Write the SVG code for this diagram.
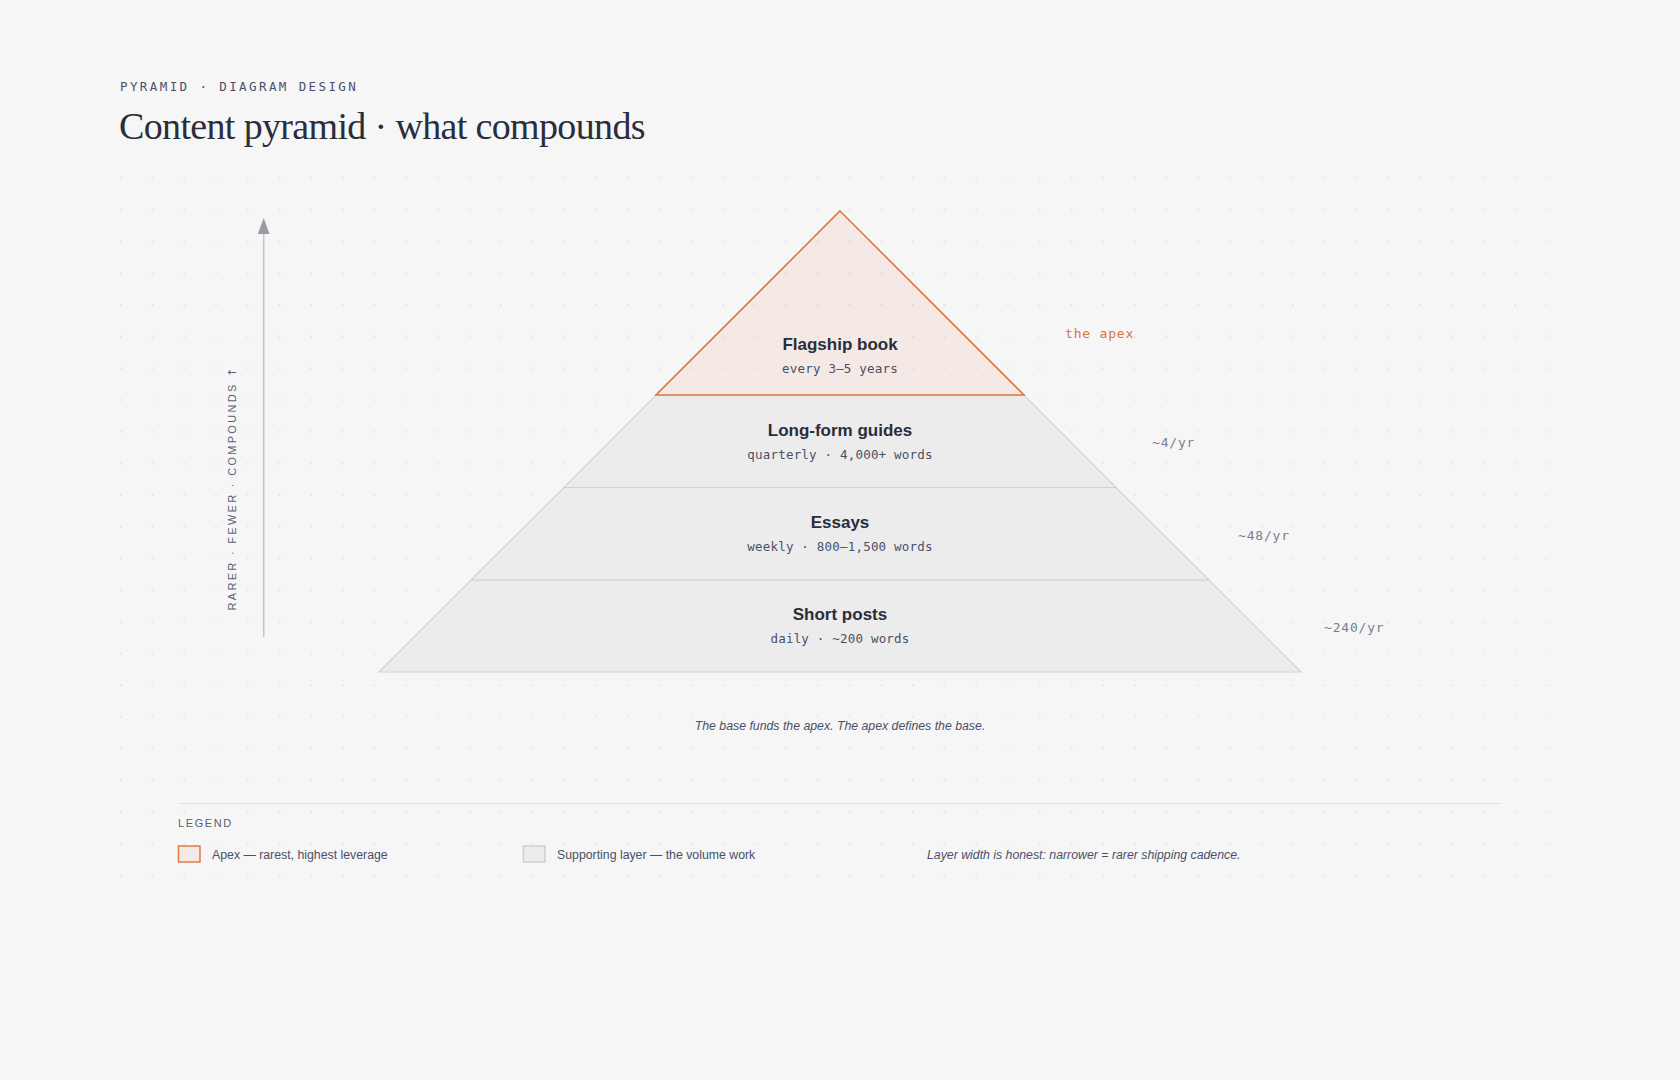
<svg xmlns="http://www.w3.org/2000/svg" width="1680" height="1080" viewBox="0 0 1680 1080">
  <defs>
    <pattern id="dots" x="105.16" y="162.46" width="31.68" height="31.68" patternUnits="userSpaceOnUse">
      <circle cx="15.84" cy="15.84" r="1" fill="#e2e2e4"/>
    </pattern>
    <style>
      .eyebrow { font-family: "DejaVu Sans Mono", "Liberation Mono", monospace; font-size: 12.5px; letter-spacing: 2.4px; fill: #4a5068; font-weight: 400; }
      .title { font-family: "Liberation Serif", serif; font-size: 38px; fill: #2a2d3a; letter-spacing: -0.65px; }
      .name { font-family: "Liberation Sans", Arial, sans-serif; font-size: 17px; font-weight: 700; fill: #2a2d3a; text-anchor: middle; }
      .sub { font-family: "DejaVu Sans Mono", "Liberation Mono", monospace; font-size: 12.5px; fill: #4a5068; text-anchor: middle; letter-spacing: 0.2px; }
      .count { font-family: "DejaVu Sans Mono", "Liberation Mono", monospace; font-size: 13px; fill: #7a7f90; letter-spacing: 0.8px; }
      .apexlab { fill: #d9733f; }
      .axis { font-family: "Liberation Sans", Arial, sans-serif; font-size: 11px; fill: #5a6075; letter-spacing: 2.3px; text-anchor: middle; }
      .cap { font-family: "Liberation Sans", Arial, sans-serif; font-size: 12.3px; font-style: italic; fill: #4a5068; }
      .leg { font-family: "Liberation Sans", Arial, sans-serif; font-size: 12.3px; fill: #4a5068; }
      .leghead { font-family: "Liberation Sans", Arial, sans-serif; font-size: 11px; fill: #5a6075; letter-spacing: 1.6px; }
      .layer { fill: #ececec; stroke: #d2d2d4; stroke-width: 1.2; }
      .apex { fill: #e07a45; fill-opacity: 0.1; stroke: #e07a45; stroke-width: 1.6; stroke-linejoin: miter; }
    </style>
  </defs>
  <rect x="0" y="0" width="1680" height="1080" fill="#f6f6f6"/>
  <rect x="105.16" y="162.46" width="1457.3" height="728.6" fill="url(#dots)"/>

  <text class="eyebrow" x="120" y="91">PYRAMID · DIAGRAM DESIGN</text>
  <text class="title" x="119" y="139">Content pyramid · what compounds</text>

  <g id="axis">
    <line x1="263.7" y1="232" x2="263.7" y2="637" stroke="#c4c4ca" stroke-width="1.5"/>
    <polygon points="263.7,218 257.8,234 269.6,234" fill="#9b9ba3"/>
    <text class="axis" transform="translate(236,488) rotate(-90)">RARER · FEWER · COMPOUNDS <tspan font-family="DejaVu Sans, sans-serif">↑</tspan></text>
  </g>

  <g id="layer-short-posts">
    <polygon class="layer" points="471,580 1209,580 1301,672 379,672"/>
    <text class="name" x="840" y="620">Short posts</text>
    <text class="sub" x="840" y="643">daily · ~200 words</text>
    <text class="count" x="1324" y="632">~240/yr</text>
  </g>
  <g id="layer-essays">
    <polygon class="layer" points="564,487.5 1116,487.5 1209,580 471,580"/>
    <text class="name" x="840" y="528">Essays</text>
    <text class="sub" x="840" y="551">weekly · 800–1,500 words</text>
    <text class="count" x="1238" y="540">~48/yr</text>
  </g>
  <g id="layer-long-form">
    <polygon class="layer" points="656,395 1024,395 1116,487.5 564,487.5"/>
    <text class="name" x="840" y="436">Long-form guides</text>
    <text class="sub" x="840" y="459">quarterly · 4,000+ words</text>
    <text class="count" x="1152" y="447">~4/yr</text>
  </g>
  <g id="layer-apex">
    <polygon class="apex" points="840,211 1024,395 656,395"/>
    <text class="name" x="840" y="350">Flagship book</text>
    <text class="sub" x="840" y="373">every 3–5 years</text>
    <text class="count apexlab" x="1065" y="338">the apex</text>
  </g>

  <text class="cap" x="840" y="730" text-anchor="middle">The base funds the apex. The apex defines the base.</text>

  <g id="legend">
    <line x1="178" y1="803.5" x2="1502" y2="803.5" stroke="#e3e3e5" stroke-width="1.2"/>
    <text class="leghead" x="178" y="827">LEGEND</text>
    <rect x="178.5" y="846" width="21.5" height="16" fill="#e07a45" fill-opacity="0.1" stroke="#e07a45" stroke-width="1.5"/>
    <text class="leg" x="212" y="859">Apex — rarest, highest leverage</text>
    <rect x="523.5" y="846" width="21.5" height="16" fill="#ececec" stroke="#cfcfd2" stroke-width="1.5"/>
    <text class="leg" x="557" y="859">Supporting layer — the volume work</text>
    <text class="cap" x="927" y="859" font-size="12px">Layer width is honest: narrower = rarer shipping cadence.</text>
  </g>
</svg>
